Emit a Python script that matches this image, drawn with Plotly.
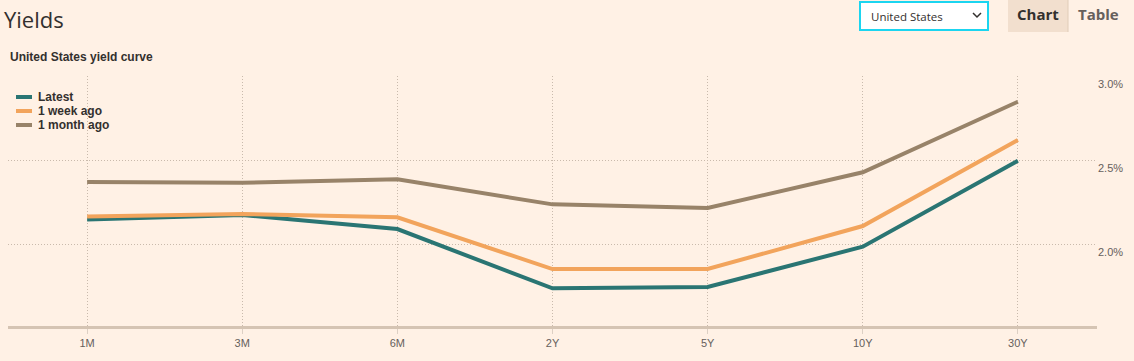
import plotly.graph_objects as go

maturities = ["1M", "3M", "6M", "2Y", "5Y", "10Y", "30Y"]
latest = [2.146, 2.173, 2.089, 1.736, 1.744, 1.984, 2.496]
week_ago = [2.164, 2.179, 2.159, 1.851, 1.851, 2.107, 2.619]
month_ago = [2.369, 2.365, 2.385, 2.236, 2.214, 2.427, 2.847]
series_names = ["Latest", "1 week ago", "1 month ago"]
series_colors = ["#2a7573", "#f2a45c", "#988369"]
y_ticks = [2.0, 2.5, 3.0]
y_tick_text = ["2.0%", "2.5%", "3.0%"]

BG = "#fff1e5"
TEXT = "#33302e"
GREY = "#66605c"
GRID = "#c9baac"

W, H = 1134, 361
ML, MR, MT, MB = 8, 37, 76, 35
PW = W - ML - MR
PH = H - MT - MB


def px(x):
    return (x - ML) / PW


def py(y):
    return (H - MB - y) / PH


fig = go.Figure()
for name, vals, col in zip(series_names, [latest, week_ago, month_ago], series_colors):
    fig.add_trace(go.Scatter(
        x=maturities, y=vals, name=name, mode="lines",
        line=dict(color=col, width=4), showlegend=False,
        hovertemplate="%{x}: %{y:.3f}%<extra>" + name + "</extra>",
    ))

fig.update_layout(
    width=W, height=H,
    margin=dict(l=ML, r=MR, t=MT, b=MB),
    paper_bgcolor=BG, plot_bgcolor=BG,
    font=dict(family="Liberation Sans, Arial, sans-serif", color=TEXT, size=12),
    showlegend=False,
    xaxis=dict(
        type="category", range=[-0.51, 6.51],
        showgrid=True, gridcolor=GRID, griddash="1px,2px", gridwidth=1,
        showline=True, linecolor="#d5c4b3", linewidth=3,
        ticks="outside", ticklen=5, tickcolor="#ddd0c4", tickwidth=1,
        tickfont=dict(size=11, color=GREY),
        zeroline=False, fixedrange=True,
    ),
    yaxis=dict(
        side="right", range=[1.512, 3.0],
        tickvals=y_ticks, ticktext=y_tick_text,
        ticklabelposition="outside bottom",
        showgrid=True, gridcolor=GRID, griddash="1px,2px", gridwidth=1,
        showline=False, zeroline=False, ticks="",
        tickfont=dict(size=11, color=GREY),
        fixedrange=True,
    ),
)

shapes = []
annotations = []

# Custom compact legend
for i, (name, col) in enumerate(zip(series_names, series_colors)):
    yy = 97 + 14 * i
    shapes.append(dict(
        type="line", xref="paper", yref="paper",
        x0=px(16), x1=px(32), y0=py(yy), y1=py(yy),
        line=dict(color=col, width=4), layer="above",
    ))
    annotations.append(dict(
        text="<b>" + name + "</b>", xref="paper", yref="paper",
        x=px(36), y=py(yy), xanchor="left", yanchor="middle", showarrow=False,
        font=dict(size=12, color=TEXT, family="Liberation Sans, Arial, sans-serif"),
    ))

# Title and subtitle
annotations.append(dict(
    text="Yields", xref="paper", yref="paper", x=px(2), y=py(19),
    xanchor="left", yanchor="middle", showarrow=False,
    font=dict(size=22, color=TEXT, family="Open Sans, sans-serif"),
))
annotations.append(dict(
    text="<b>United States yield curve</b>", xref="paper", yref="paper",
    x=px(8), y=py(57), xanchor="left", yanchor="middle", showarrow=False,
    font=dict(size=12, color=TEXT, family="Liberation Sans, Arial, sans-serif"),
))

# Dropdown box
shapes.append(dict(
    type="rect", xref="paper", yref="paper",
    x0=px(860), x1=px(988), y0=py(2), y1=py(30),
    line=dict(color="#1bd5f0", width=2), fillcolor="#ffffff", layer="above",
))
annotations.append(dict(
    text="United States", xref="paper", yref="paper", x=px(869), y=py(16),
    xanchor="left", yanchor="middle", showarrow=False,
    font=dict(size=11.5, color=TEXT, family="Open Sans, sans-serif"),
))
shapes.append(dict(
    type="path", xref="paper", yref="paper",
    path="M {a} {b} L {c} {d} L {e} {f}".format(
        a=px(973), b=py(13), c=px(977), d=py(17), e=px(981), f=py(13)),
    line=dict(color=TEXT, width=1.5), layer="above",
))

# Chart / Table buttons
shapes.append(dict(
    type="rect", xref="paper", yref="paper",
    x0=px(1008), x1=px(1068), y0=py(0), y1=py(32),
    line=dict(width=0), fillcolor="#f2dfce", layer="above",
))
shapes.append(dict(
    type="line", xref="paper", yref="paper",
    x0=px(1068), x1=px(1068), y0=py(0), y1=py(32),
    line=dict(color="#e0ccb9", width=1), layer="above",
))
annotations.append(dict(
    text="<b>Chart</b>", xref="paper", yref="paper", x=px(1038), y=py(14),
    xanchor="center", yanchor="middle", showarrow=False,
    font=dict(size=15, color=TEXT, family="Open Sans, sans-serif"),
))
annotations.append(dict(
    text="<b>Table</b>", xref="paper", yref="paper", x=px(1098), y=py(14),
    xanchor="center", yanchor="middle", showarrow=False,
    font=dict(size=15, color=GREY, family="Open Sans, sans-serif"),
))

fig.update_layout(shapes=shapes, annotations=annotations)
fig.write_html(
    "out.html",
    config={"displayModeBar": False},
    post_script="document.body.style.margin='0';document.body.style.overflow='hidden';",
)
